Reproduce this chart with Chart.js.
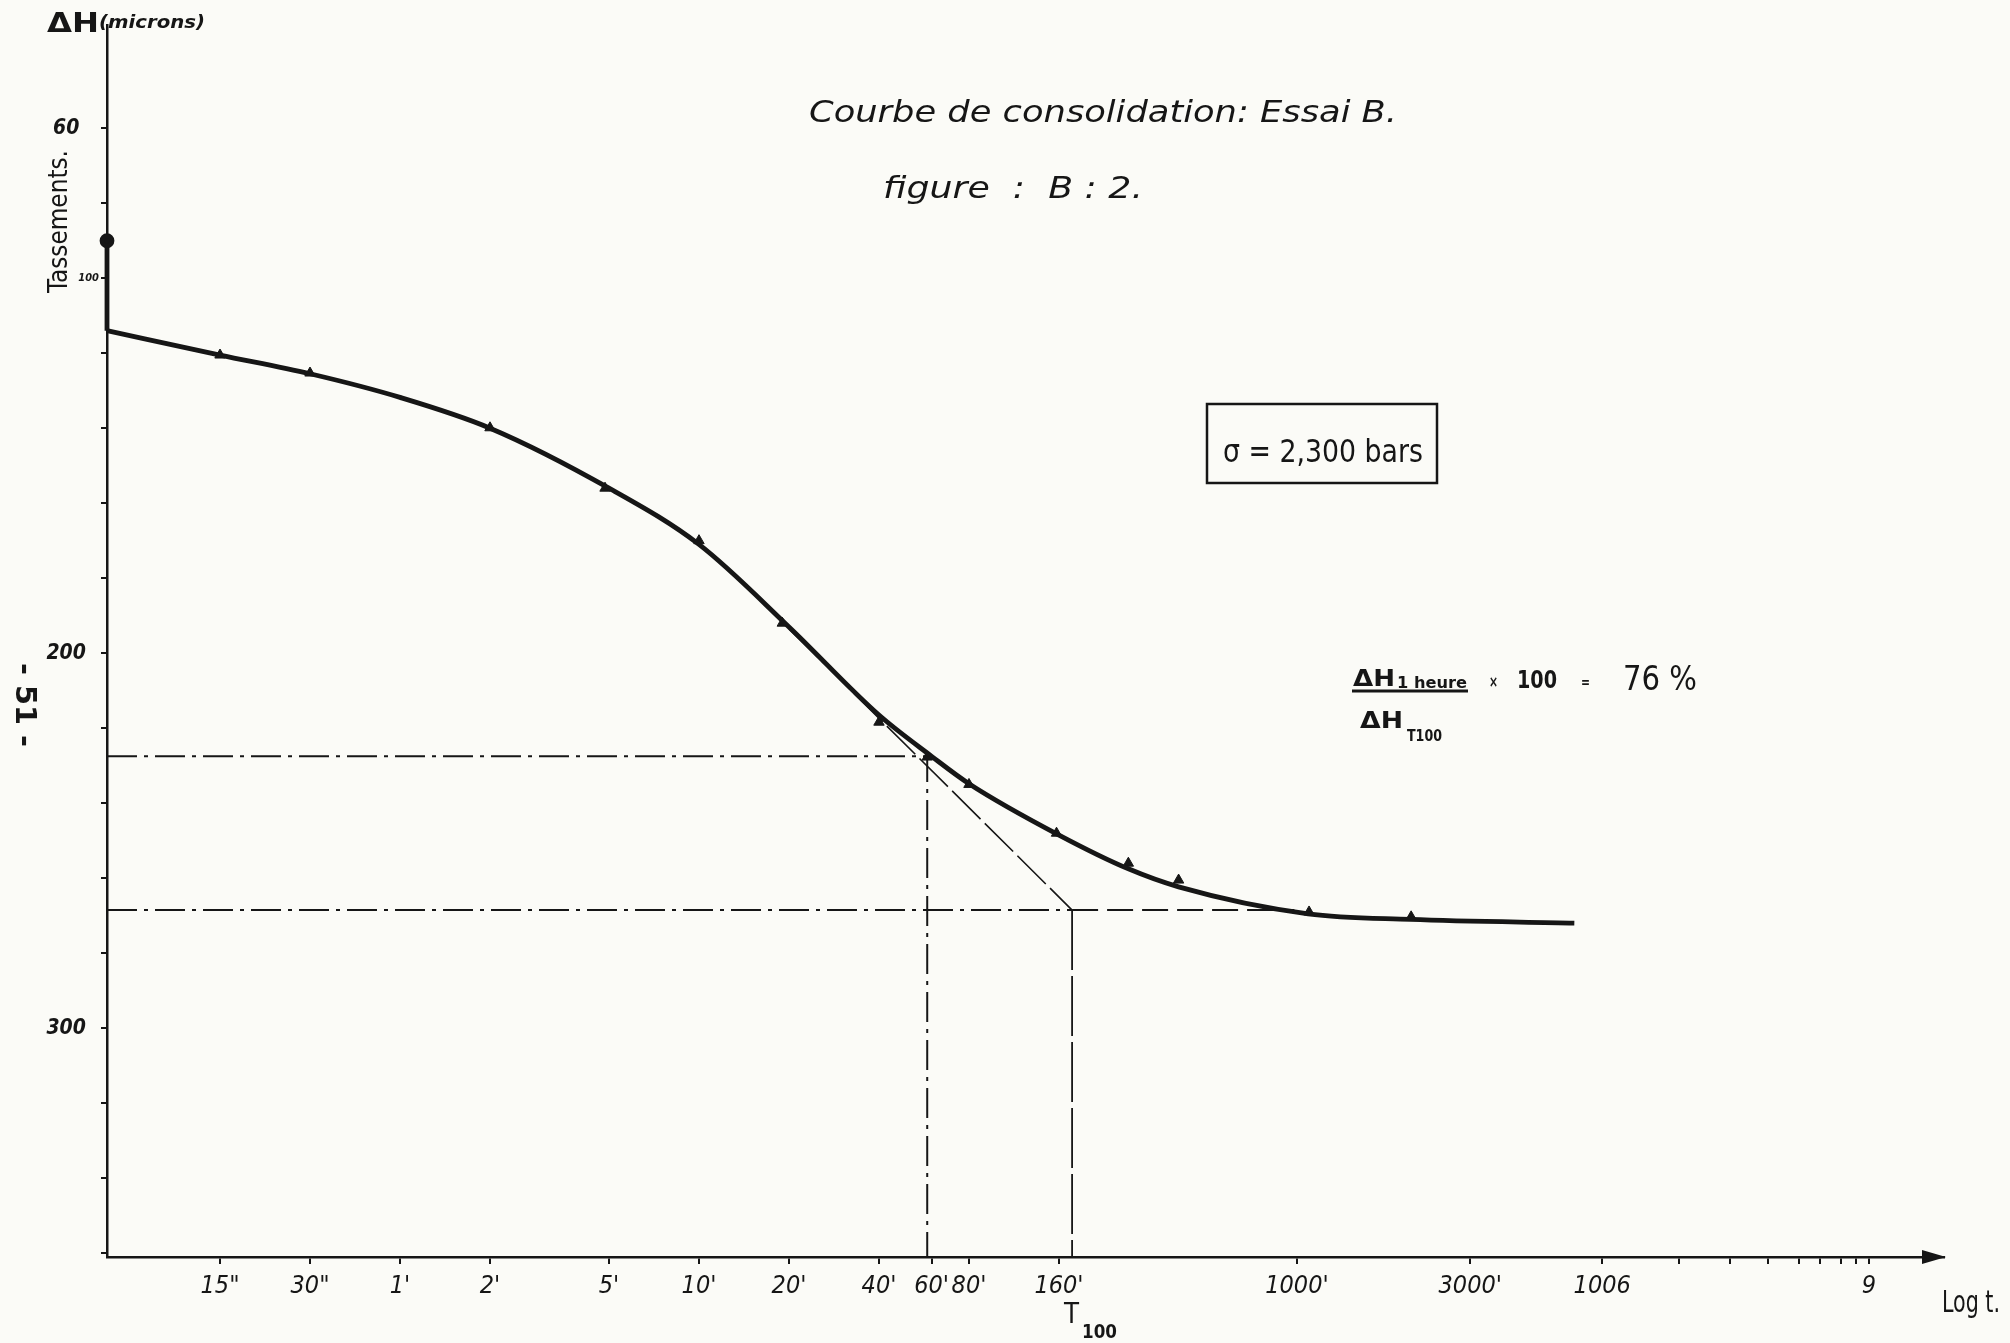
<!DOCTYPE html>
<html>
<head>
<meta charset="utf-8">
<script src="https://cdn.jsdelivr.net/npm/chart.js@4.4.0/dist/chart.umd.min.js"></script>
<style>
  body { margin: 0; background: #fbfbf7; }
  #wrap { width: 2010px; height: 1343px; position: relative; }
</style>
</head>
<body>
<div id="wrap"><canvas id="consol_chart"></canvas></div>
<script>
// time in minutes on a log axis, settlement (Tassements) in microns, axis pointing down
var t_min = 0.1047, t_max = 146000;
var h_top = 32.5, h_bottom = 361;

var x_ticks = [0.25, 0.5, 1, 2, 5, 10, 20, 40, 60, 80, 160, 1000, 3800, 10500, 19000, 28000, 37600, 47800, 56100, 65900, 74100, 81800];
var x_labels = ['15"', '30"', "1'", "2'", "5'", "10'", "20'", "40'", "60'", "80'", "160'", "1000'", "3000'", "1006", "", "", "", "", "", "", "", "9"];
var y_ticks = [60, 80, 100, 120, 140, 160, 180, 200, 220, 240, 260, 280, 300, 320, 340, 360];
// trailing spaces push the big labels away from the axis, the small 100 sits close to it
var y_labels = ["60   ", "", "100", "", "", "", "", "200  ", "", "", "", "", "300  ", "", "", ""];

// readings
var pt_t = [0.25, 0.5, 2, 4.85, 10, 19, 40, 58, 80, 157, 273, 402, 1098, 2410];
var pt_h = [120.5, 125.3, 139.9, 156, 170, 192, 218.4, 227.7, 235, 248, 256, 260.5, 269, 270.3];

// instant settlement at t = 0
var start_t = [t_min, t_min];
var start_h = [90, 114];

// hand drawn smooth curve
var curve_t = [t_min, 0.25, 0.5, 1, 2, 5, 10, 20, 40, 60, 80, 160, 273, 402, 1090, 2400, 8470];
var curve_h = [114, 120.5, 125.5, 131.8, 140, 156, 171, 193, 216.5, 227.5, 234.8, 248.5, 257.5, 262.3, 269.5, 271, 272];

// construction (Casagrande)
var t_1h = 58, dh_1h = 227.5;
var t_100 = 177, dh_100 = 268.5;
var tangent_t = [20, 177], tangent_h = [193.5, 268.5];
var asym_end_t = 980;

function pts(ts, hs) {
  var out = [];
  for (var i = 0; i < ts.length; i++) { out.push({x: ts[i], y: hs[i]}); }
  return out;
}

var FONT = "'Liberation Sans Narrow', 'DejaVu Sans Condensed', 'Liberation Sans', sans-serif";
var INK = "#161616";
var dashdot = [30, 7, 4, 7];

function hand(ctx, s, x, y, size, w, rot, style) {
  ctx.save();
  ctx.font = (style || "") + " " + size + "px " + FONT;
  ctx.fillStyle = INK;
  ctx.textBaseline = "alphabetic";
  var m = ctx.measureText(s).width;
  ctx.translate(x, y);
  if (rot) ctx.rotate(rot);
  if (w) ctx.scale(w / m, 1);
  ctx.fillText(s, 0, 0);
  ctx.restore();
}

var paper = {
  id: "paper",
  beforeDraw: function(chart) {
    var ctx = chart.ctx;
    ctx.save();
    ctx.fillStyle = "#fbfbf7";
    ctx.fillRect(0, 0, chart.width, chart.height);
    ctx.restore();
  },
  afterDraw: function(chart) {
    var ctx = chart.ctx;
    var a = chart.chartArea;
    // arrow on the time axis
    ctx.save();
    ctx.fillStyle = INK;
    ctx.beginPath();
    ctx.moveTo(a.right + 2, a.bottom);
    ctx.lineTo(a.right - 22, a.bottom - 7);
    ctx.lineTo(a.right - 22, a.bottom + 7);
    ctx.closePath();
    ctx.fill();
    ctx.restore();

    // axis titles
    hand(ctx, "ΔH", 47, 32, 27, 52, 0, "600");
    hand(ctx, "(microns)", 99, 28, 18, 106, 0, "italic 600");
    hand(ctx, "Tassements.", 67, 293, 26, 143, -Math.PI / 2);
    hand(ctx, "- 51 -", 16, 663, 28, 84, Math.PI / 2, "600");
    hand(ctx, "Log t.", 1942, 1312, 30, 58);
    hand(ctx, "T", 1064, 1323, 28, 15);
    hand(ctx, "100", 1082, 1338, 19, 35, 0, "600");

    // titles
    hand(ctx, "Courbe de consolidation: Essai B.", 809, 122, 30, 588, 0, "italic");
    hand(ctx, "figure  :  B : 2.", 883, 198, 30, 260, 0, "italic");

    // stress box
    ctx.save();
    ctx.strokeStyle = INK;
    ctx.lineWidth = 2.5;
    ctx.strokeRect(1207, 404, 230, 79);
    ctx.restore();
    hand(ctx, "σ = 2,300 bars", 1223, 462, 32, 200);

    // degree of consolidation after one hour
    hand(ctx, "ΔH", 1353, 686, 23, 42, 0, "600");
    hand(ctx, "1 heure", 1397, 688, 15, 70, 0, "600");
    ctx.save();
    ctx.strokeStyle = INK;
    ctx.lineWidth = 3;
    ctx.beginPath();
    ctx.moveTo(1352, 691);
    ctx.lineTo(1468, 691);
    ctx.stroke();
    ctx.restore();
    hand(ctx, "ΔH", 1360, 728, 23, 43, 0, "600");
    hand(ctx, "T100", 1407, 741, 15, 35, 0, "600");
    hand(ctx, "×", 1489, 687, 16, 9, 0, "600");
    hand(ctx, "100", 1517, 688, 24, 40, 0, "600");
    hand(ctx, "=", 1581, 687, 16, 9, 0, "600");
    hand(ctx, "76 %", 1623, 690, 34, 74);
  }
};

new Chart("consol_chart", {
  type: "line",
  data: {
    datasets: [
      {
        data: pts(curve_t, curve_h),
        borderColor: INK,
        borderWidth: 4.8,
        pointRadius: 0,
        cubicInterpolationMode: "monotone",
        clip: false
      },
      {
        data: pts(start_t, start_h),
        borderColor: INK,
        borderWidth: 4.8,
        pointRadius: [5, 0],
        pointBackgroundColor: INK,
        pointBorderColor: INK,
        clip: false
      },
      {
        data: pts(pt_t, pt_h),
        showLine: false,
        pointStyle: "triangle",
        pointRadius: 6,
        pointBackgroundColor: INK,
        pointBorderColor: INK,
        clip: false
      },
      {
        // one hour reading
        data: [{x: t_min, y: dh_1h}, {x: t_1h, y: dh_1h}, {x: t_1h, y: h_bottom}],
        borderColor: INK,
        borderWidth: 2,
        borderDash: dashdot,
        pointRadius: 0,
        clip: false
      },
      {
        data: [{x: t_min, y: dh_100}, {x: t_100, y: dh_100}],
        borderColor: INK,
        borderWidth: 2,
        borderDash: dashdot,
        pointRadius: 0,
        clip: false
      },
      {
        data: [{x: t_100, y: dh_100}, {x: asym_end_t, y: dh_100}],
        borderColor: INK,
        borderWidth: 2,
        borderDash: [26, 9],
        pointRadius: 0
      },
      {
        data: pts(tangent_t, tangent_h),
        borderColor: INK,
        borderWidth: 1.6,
        borderDash: [40, 6],
        pointRadius: 0
      },
      {
        data: [{x: t_100, y: dh_100}, {x: t_100, y: h_bottom}],
        borderColor: INK,
        borderWidth: 1.8,
        borderDash: [60, 6],
        pointRadius: 0
      }
    ]
  },
  options: {
    responsive: true,
    maintainAspectRatio: false,
    animation: false,
    events: [],
    layout: { padding: { top: 25, right: 66, left: 0, bottom: 0 } },
    plugins: {
      legend: { display: false },
      tooltip: { enabled: false }
    },
    scales: {
      x: {
        type: "logarithmic",
        min: t_min,
        max: t_max,
        afterBuildTicks: function(scale) {
          scale.ticks = x_ticks.map(function(v) { return {value: v}; });
        },
        afterFit: function(scale) { scale.height = 86; },
        border: { color: INK, width: 2.5 },
        grid: { drawOnChartArea: false, color: INK, lineWidth: 2, tickLength: 7 },
        ticks: {
          autoSkip: false,
          maxRotation: 0,
          minRotation: 0,
          padding: 7,
          color: INK,
          font: { family: FONT, size: 25, style: "italic" },
          callback: function(v, i) { return x_labels[i]; }
        }
      },
      y: {
        type: "linear",
        reverse: true,
        min: h_top,
        max: h_bottom,
        afterBuildTicks: function(scale) {
          scale.ticks = y_ticks.map(function(v) { return {value: v}; });
        },
        afterFit: function(scale) { scale.width = 107; },
        border: { color: INK, width: 2.5 },
        grid: { drawOnChartArea: false, color: INK, lineWidth: 2, tickLength: 6 },
        ticks: {
          padding: 2,
          color: INK,
          font: function(c) {
            return { family: FONT, size: (c.tick && c.tick.value === 100) ? 11 : 21, style: "italic", weight: "600" };
          },
          callback: function(v, i) { return y_labels[i]; }
        }
      }
    }
  },
  plugins: [paper]
});
</script>
</body>
</html>
